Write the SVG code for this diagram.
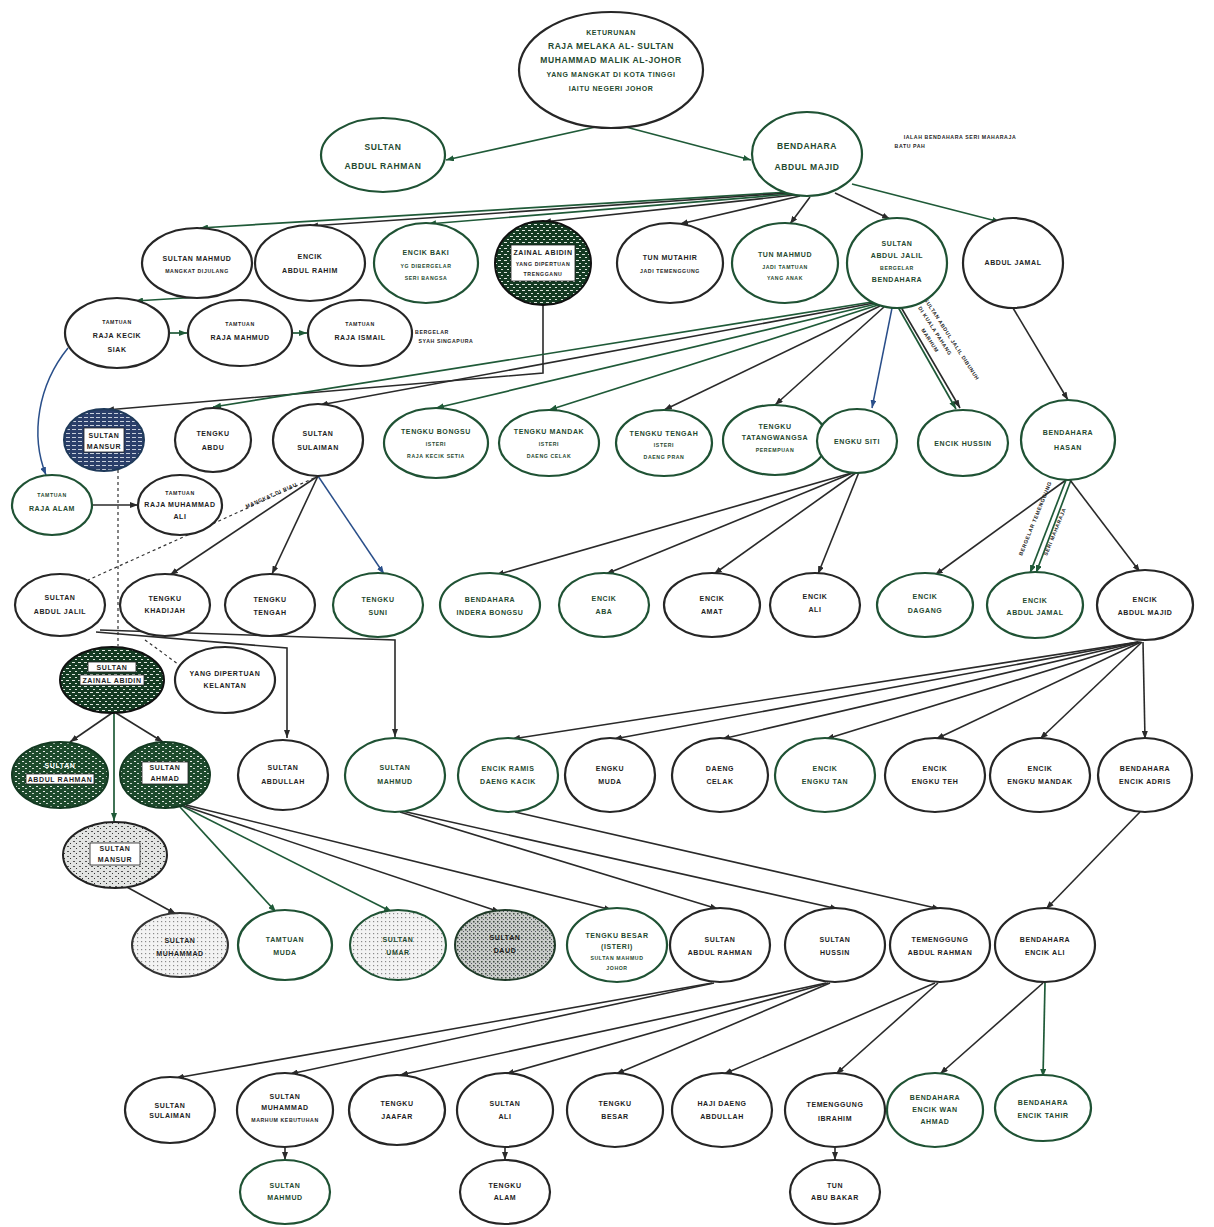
<svg xmlns="http://www.w3.org/2000/svg" width="1214" height="1227" viewBox="0 0 1214 1227">
<style>
.k{fill:#fff;stroke:#262626;stroke-width:2.2}
.g{fill:#fff;stroke:#1f5234;stroke-width:2.2}
text{font-family:"Liberation Sans",Arial,sans-serif;font-weight:bold;font-size:7px;text-anchor:middle;letter-spacing:0.6px;fill:#1e1e1e}
.tg{fill:#1f4a30}
.s{font-size:5.2px}
.b{font-size:8.5px}
.st{text-anchor:start}
.c{fill:none;stroke:#2a2a2a;stroke-width:1.6;marker-end:url(#ak)}
.cg{fill:none;stroke:#1f5a38;stroke-width:1.7;marker-end:url(#ag)}
.cb{fill:none;stroke:#2a4f8a;stroke-width:1.5;marker-end:url(#ab)}
.dot{fill:none;stroke:#333;stroke-width:1.2;stroke-dasharray:3 3}
.box{fill:#fff;stroke:#222;stroke-width:0.8}
</style>
<defs>
<marker id="ak" markerWidth="8" markerHeight="6" refX="8" refY="3" orient="auto" markerUnits="userSpaceOnUse"><path d="M0,0 L8,3 L0,6 z" fill="#2a2a2a"/></marker>
<marker id="ag" markerWidth="8" markerHeight="6" refX="8" refY="3" orient="auto" markerUnits="userSpaceOnUse"><path d="M0,0 L8,3 L0,6 z" fill="#1f5a38"/></marker>
<marker id="ab" markerWidth="8" markerHeight="6" refX="8" refY="3" orient="auto" markerUnits="userSpaceOnUse"><path d="M0,0 L8,3 L0,6 z" fill="#2a4f8a"/></marker>
<pattern id="dk" width="7" height="5" patternUnits="userSpaceOnUse"><rect width="7" height="5" fill="#1d4a2c"/><rect x="1" y="1" width="2" height="1" fill="#e8ede8"/><rect x="4" y="3" width="2" height="1" fill="#c9d6cc"/></pattern>
<pattern id="dk2" width="6" height="6" patternUnits="userSpaceOnUse"><rect width="6" height="6" fill="#143a22"/><rect x="0" y="2" width="3" height="1" fill="#dfe6df"/><rect x="3" y="5" width="2" height="1" fill="#dfe6df"/></pattern>
<pattern id="nv" width="6" height="4" patternUnits="userSpaceOnUse"><rect width="6" height="4" fill="#2b3f6a"/><rect x="0" y="1" width="4" height="1" fill="#c8d0dc"/></pattern>
<pattern id="gm" width="6" height="5" patternUnits="userSpaceOnUse"><rect width="6" height="5" fill="#e2e4e2"/><rect x="1" y="1" width="2" height="1" fill="#555"/><rect x="4" y="3" width="1" height="1" fill="#333"/></pattern>
<pattern id="stp" width="4" height="4" patternUnits="userSpaceOnUse"><rect width="4" height="4" fill="#f3f3f3"/><rect x="1" y="1" width="1.2" height="1.2" fill="#8a8a8a"/></pattern>
<pattern id="stp2" width="4" height="4" patternUnits="userSpaceOnUse"><rect width="4" height="4" fill="#c9ccc9"/><rect x="1" y="1" width="1.5" height="1.5" fill="#3d4a40"/><rect x="3" y="3" width="1" height="1" fill="#556"/></pattern>
</defs>

<g id="connectors">
<path class="cg" d="M600,126 L446,160"/>
<path class="cg" d="M622,126 L751,160"/>
<path class="cg" d="M790,192 L200,228"/>
<path class="c" d="M790,193 L310,226"/>
<path class="cg" d="M792,194 L428,224"/>
<path class="c" d="M795,195 L543,222"/>
<path class="c" d="M800,196 L680,224"/>
<path class="c" d="M810,197 L790,224"/>
<path class="c" d="M835,193 L890,219"/>
<path class="cg" d="M852,184 L1000,222"/>
<path class="cg" d="M200,297 L135,301"/>
<path class="cg" d="M169,333 L187,333"/>
<path class="cg" d="M292,333 L307,333"/>
<path class="cb" d="M68,348 C38,385 30,435 46,475"/>
<path class="c" d="M543,305 L543,373 L106,410"/>
<path class="cg" d="M872,302 L213,407"/>
<path class="c" d="M874,303 L320,405"/>
<path class="cg" d="M876,304 L436,408"/>
<path class="cg" d="M878,305 L549,410"/>
<path class="c" d="M880,306 L664,410"/>
<path class="c" d="M884,307 L775,405"/>
<path class="cb" d="M892,308 L872,408"/>
<path class="cg" d="M894,300 L956,409"/>
<path class="c" d="M898,302 L960,408"/>
<path class="c" d="M1013,308 L1068,400"/>
<path class="dot" d="M118,470 L118,646"/>
<path class="c" d="M93,505 L138,505"/>
<path class="c" d="M318,476 L170,575"/>
<path class="c" d="M318,476 L272,574"/>
<path class="cb" d="M318,476 L384,574"/>
<path class="dot" d="M314,478 L88,580"/>
<path class="c" d="M855,472 L496,575"/>
<path class="c" d="M855,472 L606,574"/>
<path class="c" d="M857,472 L714,574"/>
<path class="c" d="M859,472 L818,574"/>
<path class="c" d="M1066,480 L935,575"/>
<path class="cg" d="M1066,480 L1030,573"/>
<path class="cg" d="M1071,480 L1036,573"/>
<path class="c" d="M1070,480 L1140,572"/>
<path class="dot" d="M145,640 L178,664"/>
<path class="c" d="M96,632 L287,648 L287,738"/>
<path class="c" d="M100,630 L395,640 L395,737"/>
<path class="c" d="M112,713 L70,742"/>
<path class="cg" d="M114,713 L114,821"/>
<path class="c" d="M116,713 L163,742"/>
<path class="c" d="M125,886 L176,914"/>
<path class="cg" d="M180,807 L276,912"/>
<path class="cg" d="M182,806 L392,912"/>
<path class="c" d="M184,806 L500,912"/>
<path class="c" d="M186,805 L612,910"/>
<path class="c" d="M400,812 L718,909"/>
<path class="c" d="M402,811 L838,909"/>
<path class="c" d="M515,812 L940,909"/>
<path class="c" d="M1140,812 L1046,909"/>
<path class="c" d="M1138,642 L512,739"/>
<path class="c" d="M1138,642 L614,739"/>
<path class="c" d="M1139,642 L722,739"/>
<path class="c" d="M1140,642 L826,739"/>
<path class="c" d="M1141,642 L936,739"/>
<path class="c" d="M1142,642 L1040,739"/>
<path class="c" d="M1143,642 L1145,739"/>
<path class="c" d="M712,983 L176,1078"/>
<path class="c" d="M714,983 L290,1074"/>
<path class="c" d="M826,983 L400,1075"/>
<path class="c" d="M828,983 L506,1074"/>
<path class="c" d="M830,983 L616,1074"/>
<path class="c" d="M935,983 L724,1074"/>
<path class="c" d="M938,983 L836,1074"/>
<path class="c" d="M1043,983 L940,1074"/>
<path class="cg" d="M1045,983 L1043,1077"/>
<path class="c" d="M285,1148 L285,1160"/>
<path class="c" d="M505,1148 L505,1160"/>
<path class="c" d="M835,1148 L835,1160"/>
</g>

<g id="notes">
<text class="s" x="960" y="139">IALAH BENDAHARA SERI MAHARAJA</text>
<text class="s" x="910" y="148">BATU PAH</text>
<text class="s" x="432" y="334">BERGELAR</text>
<text class="s" x="446" y="343">SYAH SINGAPURA</text>
<text class="s st" transform="translate(924,300) rotate(57)">SULTAN ABDUL JALIL DIBUNUH</text>
<text class="s st" transform="translate(918,308) rotate(57)">DI KUALA PAHANG</text>
<text class="s st" transform="translate(921,330) rotate(57)">MARHUM</text>
<text class="s st" transform="translate(1022,556) rotate(-68)">BERGELAR TEMENGGUNG</text>
<text class="s st" transform="translate(1047,556) rotate(-68)">SERI MAHARAJA</text>
<text class="s" transform="translate(272,497) rotate(-24)">MANGKAT DI RIAU</text>
</g>

<g id="n-top"><ellipse class="k" cx="611" cy="70" rx="92" ry="58"/><text class="tg"><tspan x="611" y="35">KETURUNAN</tspan><tspan x="611" y="49" class="b">RAJA MELAKA AL- SULTAN</tspan><tspan x="611" y="63" class="b">MUHAMMAD MALIK AL-JOHOR</tspan><tspan x="611" y="77">YANG MANGKAT DI KOTA TINGGI</tspan><tspan x="611" y="91">IAITU NEGERI JOHOR</tspan></text></g>
<g id="n-sar"><ellipse class="g" cx="383" cy="155" rx="62" ry="37"/><text class="tg b"><tspan x="383" y="150">SULTAN</tspan><tspan x="383" y="169">ABDUL RAHMAN</tspan></text></g>
<g id="n-bam"><ellipse class="g" cx="807" cy="154" rx="55" ry="42"/><text class="tg b"><tspan x="807" y="149">BENDAHARA</tspan><tspan x="807" y="170">ABDUL MAJID</tspan></text></g>

<g id="n-b1"><ellipse class="k" cx="197" cy="263" rx="55" ry="35"/><text><tspan x="197" y="261">SULTAN MAHMUD</tspan><tspan x="197" y="273" class="s">MANGKAT DIJULANG</tspan></text></g>
<g id="n-b2"><ellipse class="k" cx="310" cy="263" rx="55" ry="38"/><text><tspan x="310" y="259">ENCIK</tspan><tspan x="310" y="273">ABDUL RAHIM</tspan></text></g>
<g id="n-b3"><ellipse class="g" cx="426" cy="263" rx="52" ry="40"/><text class="tg"><tspan x="426" y="255">ENCIK BAKI</tspan><tspan x="426" y="268" class="s">YG DIBERGELAR</tspan><tspan x="426" y="280" class="s">SERI BANGSA</tspan></text></g>
<g id="n-b4"><ellipse cx="543" cy="263" rx="48" ry="42" fill="url(#dk2)" stroke="#111" stroke-width="2"/><rect class="box" x="511" y="245" width="64" height="36"/><text><tspan x="543" y="255">ZAINAL ABIDIN</tspan><tspan x="543" y="266" class="s">YANG DIPERTUAN</tspan><tspan x="543" y="276" class="s">TRENGGANU</tspan></text></g>
<g id="n-b5"><ellipse class="k" cx="670" cy="263" rx="53" ry="40"/><text><tspan x="670" y="260">TUN MUTAHIR</tspan><tspan x="670" y="273" class="s">JADI TEMENGGUNG</tspan></text></g>
<g id="n-b6"><ellipse class="g" cx="785" cy="263" rx="53" ry="40"/><text class="tg"><tspan x="785" y="257">TUN MAHMUD</tspan><tspan x="785" y="269" class="s">JADI TAMTUAN</tspan><tspan x="785" y="280" class="s">YANG ANAK</tspan></text></g>
<g id="n-b7"><ellipse class="g" cx="897" cy="263" rx="50" ry="45"/><text class="tg"><tspan x="897" y="246">SULTAN</tspan><tspan x="897" y="258">ABDUL JALIL</tspan><tspan x="897" y="270" class="s">BERGELAR</tspan><tspan x="897" y="282">BENDAHARA</tspan></text></g>
<g id="n-b8"><ellipse class="k" cx="1013" cy="263" rx="50" ry="45"/><text><tspan x="1013" y="265">ABDUL JAMAL</tspan></text></g>

<g id="n-c1"><ellipse class="k" cx="117" cy="333" rx="52" ry="35"/><text><tspan x="117" y="324" class="s">TAMTUAN</tspan><tspan x="117" y="338">RAJA KECIK</tspan><tspan x="117" y="352">SIAK</tspan></text></g>
<g id="n-c2"><ellipse class="k" cx="240" cy="333" rx="52" ry="33"/><text><tspan x="240" y="326" class="s">TAMTUAN</tspan><tspan x="240" y="340">RAJA MAHMUD</tspan></text></g>
<g id="n-c3"><ellipse class="k" cx="360" cy="333" rx="52" ry="33"/><text><tspan x="360" y="326" class="s">TAMTUAN</tspan><tspan x="360" y="340">RAJA ISMAIL</tspan></text></g>

<g id="n-d1"><ellipse cx="104" cy="440" rx="40" ry="31" fill="url(#nv)" stroke="#1f3a5a" stroke-width="2"/><rect class="box" x="84" y="428" width="40" height="24"/><text><tspan x="104" y="438">SULTAN</tspan><tspan x="104" y="449">MANSUR</tspan></text></g>
<g id="n-d2"><ellipse class="k" cx="213" cy="440" rx="38" ry="32"/><text><tspan x="213" y="436">TENGKU</tspan><tspan x="213" y="450">ABDU</tspan></text></g>
<g id="n-d3"><ellipse class="k" cx="318" cy="440" rx="45" ry="36"/><text><tspan x="318" y="436">SULTAN</tspan><tspan x="318" y="450">SULAIMAN</tspan></text></g>
<g id="n-d4"><ellipse class="g" cx="436" cy="443" rx="52" ry="35"/><text class="tg"><tspan x="436" y="434">TENGKU BONGSU</tspan><tspan x="436" y="446" class="s">ISTERI</tspan><tspan x="436" y="458" class="s">RAJA KECIK SETIA</tspan></text></g>
<g id="n-d5"><ellipse class="g" cx="549" cy="443" rx="50" ry="33"/><text class="tg"><tspan x="549" y="434">TENGKU MANDAK</tspan><tspan x="549" y="446" class="s">ISTERI</tspan><tspan x="549" y="458" class="s">DAENG CELAK</tspan></text></g>
<g id="n-d6"><ellipse class="g" cx="664" cy="443" rx="48" ry="33"/><text class="tg"><tspan x="664" y="436">TENGKU TENGAH</tspan><tspan x="664" y="447" class="s">ISTERI</tspan><tspan x="664" y="459" class="s">DAENG PRAN</tspan></text></g>
<g id="n-d7"><ellipse class="g" cx="775" cy="440" rx="52" ry="35"/><text class="tg"><tspan x="775" y="429">TENGKU</tspan><tspan x="775" y="440">TATANGWANGSA</tspan><tspan x="775" y="452" class="s">PEREMPUAN</tspan></text></g>
<g id="n-d8"><ellipse class="g" cx="857" cy="441" rx="40" ry="32"/><text class="tg"><tspan x="857" y="444">ENGKU SITI</tspan></text></g>
<g id="n-d9"><ellipse class="g" cx="963" cy="443" rx="45" ry="33"/><text class="tg"><tspan x="963" y="446">ENCIK HUSSIN</tspan></text></g>
<g id="n-d10"><ellipse class="g" cx="1068" cy="440" rx="47" ry="40"/><text class="tg"><tspan x="1068" y="435">BENDAHARA</tspan><tspan x="1068" y="450">HASAN</tspan></text></g>

<g id="n-e1"><ellipse class="g" cx="52" cy="505" rx="40" ry="30"/><text class="tg"><tspan x="52" y="497" class="s">TAMTUAN</tspan><tspan x="52" y="511">RAJA ALAM</tspan></text></g>
<g id="n-e2"><ellipse class="k" cx="180" cy="505" rx="42" ry="30"/><text><tspan x="180" y="495" class="s">TAMTUAN</tspan><tspan x="180" y="507">RAJA MUHAMMAD</tspan><tspan x="180" y="519">ALI</tspan></text></g>

<g id="n-f1"><ellipse class="k" cx="60" cy="605" rx="45" ry="31"/><text><tspan x="60" y="600">SULTAN</tspan><tspan x="60" y="614">ABDUL JALIL</tspan></text></g>
<g id="n-f2"><ellipse class="k" cx="165" cy="605" rx="45" ry="31"/><text><tspan x="165" y="601">TENGKU</tspan><tspan x="165" y="613">KHADIJAH</tspan></text></g>
<g id="n-f3"><ellipse class="k" cx="270" cy="605" rx="45" ry="31"/><text><tspan x="270" y="602">TENGKU</tspan><tspan x="270" y="615">TENGAH</tspan></text></g>
<g id="n-f4"><ellipse class="g" cx="378" cy="605" rx="45" ry="32"/><text class="tg"><tspan x="378" y="602">TENGKU</tspan><tspan x="378" y="615">SUNI</tspan></text></g>
<g id="n-f5"><ellipse class="g" cx="490" cy="605" rx="50" ry="32"/><text class="tg"><tspan x="490" y="602">BENDAHARA</tspan><tspan x="490" y="615">INDERA BONGSU</tspan></text></g>
<g id="n-f6"><ellipse class="g" cx="604" cy="605" rx="45" ry="32"/><text class="tg"><tspan x="604" y="601">ENCIK</tspan><tspan x="604" y="614">ABA</tspan></text></g>
<g id="n-f7"><ellipse class="k" cx="712" cy="605" rx="48" ry="32"/><text><tspan x="712" y="601">ENCIK</tspan><tspan x="712" y="614">AMAT</tspan></text></g>
<g id="n-f8"><ellipse class="k" cx="815" cy="605" rx="45" ry="32"/><text><tspan x="815" y="599">ENCIK</tspan><tspan x="815" y="612">ALI</tspan></text></g>
<g id="n-f9"><ellipse class="g" cx="925" cy="605" rx="48" ry="32"/><text class="tg"><tspan x="925" y="599">ENCIK</tspan><tspan x="925" y="613">DAGANG</tspan></text></g>
<g id="n-f10"><ellipse class="g" cx="1035" cy="605" rx="48" ry="33"/><text class="tg"><tspan x="1035" y="603">ENCIK</tspan><tspan x="1035" y="615">ABDUL JAMAL</tspan></text></g>
<g id="n-f11"><ellipse class="k" cx="1145" cy="605" rx="48" ry="35"/><text><tspan x="1145" y="602">ENCIK</tspan><tspan x="1145" y="615">ABDUL MAJID</tspan></text></g>

<g id="n-g1"><ellipse cx="112" cy="680" rx="52" ry="33" fill="url(#dk2)" stroke="#111" stroke-width="2"/><rect class="box" x="88" y="662" width="48" height="10"/><rect class="box" x="80" y="675" width="64" height="10"/><text><tspan x="112" y="670">SULTAN</tspan><tspan x="112" y="683">ZAINAL ABIDIN</tspan></text></g>
<g id="n-g2"><ellipse class="k" cx="225" cy="680" rx="50" ry="33"/><text><tspan x="225" y="676">YANG DIPERTUAN</tspan><tspan x="225" y="688">KELANTAN</tspan></text></g>

<g id="n-h1"><ellipse cx="60" cy="775" rx="48" ry="33" fill="url(#dk)" stroke="#143a22" stroke-width="2"/><rect class="box" x="26" y="774" width="68" height="10"/><text><tspan x="60" y="768" fill="#fff">SULTAN</tspan><tspan x="60" y="782">ABDUL RAHMAN</tspan></text></g>
<g id="n-h2"><ellipse cx="165" cy="775" rx="45" ry="33" fill="url(#dk)" stroke="#143a22" stroke-width="2"/><rect class="box" x="142" y="762" width="46" height="22"/><text><tspan x="165" y="770">SULTAN</tspan><tspan x="165" y="781">AHMAD</tspan></text></g>
<g id="n-h3"><ellipse class="k" cx="283" cy="775" rx="45" ry="35"/><text><tspan x="283" y="770">SULTAN</tspan><tspan x="283" y="784">ABDULLAH</tspan></text></g>
<g id="n-h4"><ellipse class="g" cx="395" cy="775" rx="50" ry="37"/><text class="tg"><tspan x="395" y="770">SULTAN</tspan><tspan x="395" y="784">MAHMUD</tspan></text></g>
<g id="n-h5"><ellipse class="g" cx="508" cy="775" rx="50" ry="37"/><text class="tg"><tspan x="508" y="771">ENCIK RAMIS</tspan><tspan x="508" y="784">DAENG KACIK</tspan></text></g>
<g id="n-h6"><ellipse class="k" cx="610" cy="775" rx="45" ry="37"/><text><tspan x="610" y="771">ENGKU</tspan><tspan x="610" y="784">MUDA</tspan></text></g>
<g id="n-h7"><ellipse class="k" cx="720" cy="775" rx="48" ry="37"/><text><tspan x="720" y="771">DAENG</tspan><tspan x="720" y="784">CELAK</tspan></text></g>
<g id="n-h8"><ellipse class="g" cx="825" cy="775" rx="50" ry="37"/><text class="tg"><tspan x="825" y="771">ENCIK</tspan><tspan x="825" y="784">ENGKU TAN</tspan></text></g>
<g id="n-h9"><ellipse class="k" cx="935" cy="775" rx="50" ry="37"/><text><tspan x="935" y="771">ENCIK</tspan><tspan x="935" y="784">ENGKU TEH</tspan></text></g>
<g id="n-h10"><ellipse class="k" cx="1040" cy="775" rx="50" ry="37"/><text><tspan x="1040" y="771">ENCIK</tspan><tspan x="1040" y="784">ENGKU MANDAK</tspan></text></g>
<g id="n-h11"><ellipse class="k" cx="1145" cy="775" rx="47" ry="37"/><text><tspan x="1145" y="771">BENDAHARA</tspan><tspan x="1145" y="784">ENCIK ADRIS</tspan></text></g>

<g id="n-i0"><ellipse cx="115" cy="855" rx="52" ry="33" fill="url(#gm)" stroke="#222" stroke-width="2"/><rect class="box" x="90" y="843" width="50" height="22"/><text><tspan x="115" y="851">SULTAN</tspan><tspan x="115" y="862">MANSUR</tspan></text></g>

<g id="n-i1"><ellipse cx="180" cy="945" rx="48" ry="32" fill="url(#stp)" stroke="#333" stroke-width="2"/><text><tspan x="180" y="943">SULTAN</tspan><tspan x="180" y="956">MUHAMMAD</tspan></text></g>
<g id="n-i2"><ellipse class="g" cx="285" cy="945" rx="47" ry="35"/><text class="tg"><tspan x="285" y="942">TAMTUAN</tspan><tspan x="285" y="955">MUDA</tspan></text></g>
<g id="n-i3"><ellipse cx="398" cy="945" rx="48" ry="35" fill="url(#stp)" stroke="#1f5234" stroke-width="2"/><text class="tg"><tspan x="398" y="942">SULTAN</tspan><tspan x="398" y="955">UMAR</tspan></text></g>
<g id="n-i4"><ellipse cx="505" cy="945" rx="50" ry="35" fill="url(#stp2)" stroke="#1f3a28" stroke-width="2"/><text><tspan x="505" y="940">SULTAN</tspan><tspan x="505" y="953">DAUD</tspan></text></g>
<g id="n-i5"><ellipse class="g" cx="617" cy="945" rx="50" ry="37"/><text class="tg"><tspan x="617" y="938">TENGKU BESAR</tspan><tspan x="617" y="949">(ISTERI)</tspan><tspan x="617" y="960" class="s">SULTAN MAHMUD</tspan><tspan x="617" y="970" class="s">JOHOR</tspan></text></g>
<g id="n-i6"><ellipse class="k" cx="720" cy="945" rx="50" ry="37"/><text><tspan x="720" y="942">SULTAN</tspan><tspan x="720" y="955">ABDUL RAHMAN</tspan></text></g>
<g id="n-i7"><ellipse class="k" cx="835" cy="945" rx="50" ry="37"/><text><tspan x="835" y="942">SULTAN</tspan><tspan x="835" y="955">HUSSIN</tspan></text></g>
<g id="n-i8"><ellipse class="k" cx="940" cy="945" rx="50" ry="37"/><text><tspan x="940" y="942">TEMENGGUNG</tspan><tspan x="940" y="955">ABDUL RAHMAN</tspan></text></g>
<g id="n-i9"><ellipse class="k" cx="1045" cy="945" rx="50" ry="37"/><text><tspan x="1045" y="942">BENDAHARA</tspan><tspan x="1045" y="955">ENCIK ALI</tspan></text></g>

<g id="n-j1"><ellipse class="k" cx="170" cy="1110" rx="45" ry="33"/><text><tspan x="170" y="1108">SULTAN</tspan><tspan x="170" y="1118">SULAIMAN</tspan></text></g>
<g id="n-j2"><ellipse class="k" cx="285" cy="1110" rx="48" ry="37"/><text><tspan x="285" y="1099">SULTAN</tspan><tspan x="285" y="1110">MUHAMMAD</tspan><tspan x="285" y="1122" class="s">MARHUM KEBUTUHAN</tspan></text></g>
<g id="n-j3"><ellipse class="k" cx="397" cy="1110" rx="48" ry="35"/><text><tspan x="397" y="1106">TENGKU</tspan><tspan x="397" y="1119">JAAFAR</tspan></text></g>
<g id="n-j4"><ellipse class="k" cx="505" cy="1110" rx="48" ry="37"/><text><tspan x="505" y="1106">SULTAN</tspan><tspan x="505" y="1119">ALI</tspan></text></g>
<g id="n-j5"><ellipse class="k" cx="615" cy="1110" rx="48" ry="37"/><text><tspan x="615" y="1106">TENGKU</tspan><tspan x="615" y="1119">BESAR</tspan></text></g>
<g id="n-j6"><ellipse class="k" cx="722" cy="1110" rx="50" ry="37"/><text><tspan x="722" y="1106">HAJI DAENG</tspan><tspan x="722" y="1119">ABDULLAH</tspan></text></g>
<g id="n-j7"><ellipse class="k" cx="835" cy="1110" rx="50" ry="37"/><text><tspan x="835" y="1107">TEMENGGUNG</tspan><tspan x="835" y="1121">IBRAHIM</tspan></text></g>
<g id="n-j8"><ellipse class="g" cx="935" cy="1110" rx="48" ry="37"/><text class="tg"><tspan x="935" y="1100">BENDAHARA</tspan><tspan x="935" y="1112">ENCIK WAN</tspan><tspan x="935" y="1124">AHMAD</tspan></text></g>
<g id="n-j9"><ellipse class="g" cx="1043" cy="1108" rx="48" ry="33"/><text class="tg"><tspan x="1043" y="1105">BENDAHARA</tspan><tspan x="1043" y="1118">ENCIK TAHIR</tspan></text></g>

<g id="n-k1"><ellipse class="g" cx="285" cy="1192" rx="45" ry="32"/><text class="tg"><tspan x="285" y="1188">SULTAN</tspan><tspan x="285" y="1200">MAHMUD</tspan></text></g>
<g id="n-k2"><ellipse class="k" cx="505" cy="1192" rx="45" ry="32"/><text><tspan x="505" y="1188">TENGKU</tspan><tspan x="505" y="1200">ALAM</tspan></text></g>
<g id="n-k3"><ellipse class="k" cx="835" cy="1192" rx="45" ry="32"/><text><tspan x="835" y="1188">TUN</tspan><tspan x="835" y="1200">ABU BAKAR</tspan></text></g>
</svg>
